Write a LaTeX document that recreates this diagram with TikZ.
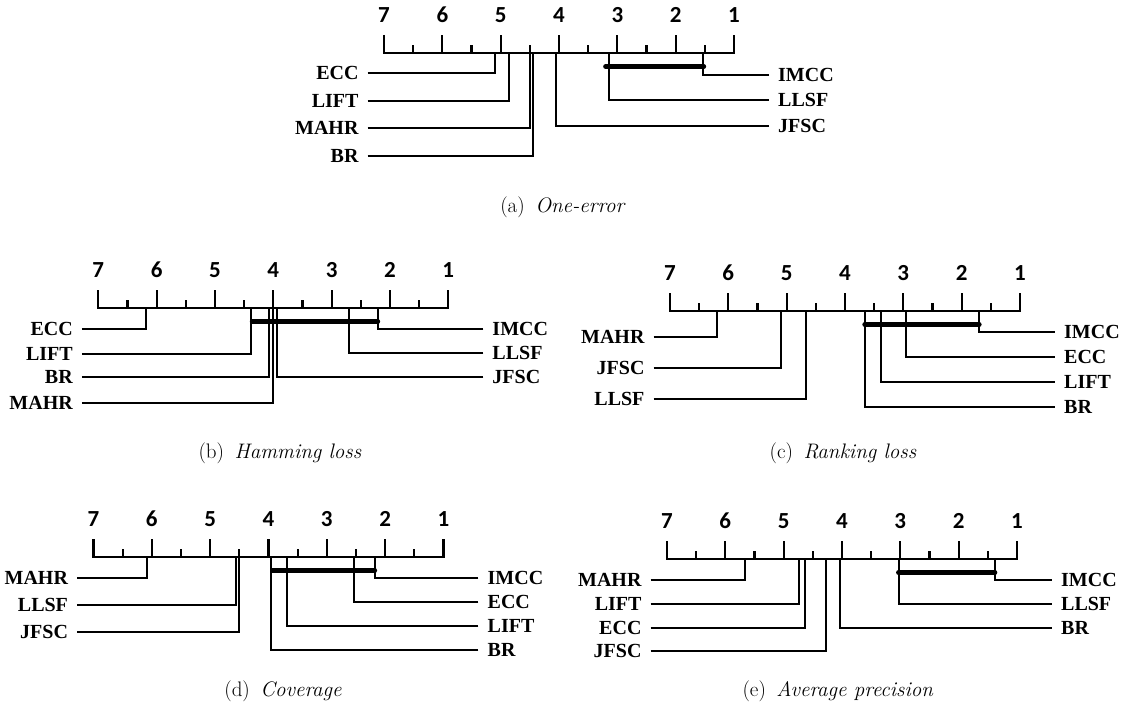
\documentclass[tikz,border=0pt]{standalone}
\usepackage{fontspec}
\newfontfamily\ranknumfont{Carlito}
\newfontfamily\methodfont{Liberation Serif}

% axis with ticks and rank numbers, #1 = prefix of the node names
\newcommand\cdaxis[1]{%
  \draw[axisline] (7,-18) -- (7,0) -- (1,0) -- (1,-18);
  \foreach \r in {2,...,6} \draw[axisline] (\r,0) -- (\r,-18);
  \foreach \r in {1.5,2.5,...,6.5} \draw[axisline] (\r,0) -- (\r,-8);
  \foreach \r in {1,...,7} \node[ranknum] (#1\r) at (\r,-38) {\r};}
% methods on the left / right: name/rank/row
\newcommand\cdleft[2]{%
  \foreach \m/\r/\y in {#2} {
    \node[method,anchor=east] (#1\m) at ([xshift=-9pt]7.28,\y) {\m};
    \draw[link] ([xshift=9pt]#1\m.east) -| (\r,0);}}
\newcommand\cdright[2]{%
  \foreach \m/\r/\y in {#2} {
    \node[method,anchor=west] (#1\m) at ([xshift=9pt]0.4,\y) {\m};
    \draw[link] ([xshift=-9pt]#1\m.west) -| (\r,0);}}

\begin{document}
\begin{tikzpicture}[
  axisline/.style={line width=2.2pt},
  link/.style={line width=2pt},
  cdbar/.style={line width=5pt,line cap=round},
  ranknum/.style={font=\ranknumfont\bfseries\fontsize{23}{23}\selectfont,inner sep=0pt},
  method/.style={font=\methodfont\bfseries\fontsize{20}{20}\selectfont,inner sep=0pt},
  capt/.style={font=\fontsize{21}{21}\selectfont,inner sep=0pt},
  panel/.style={x=-58.33pt,y=-1pt}]
\useasboundingbox (0,0) rectangle (1125pt,-709pt);

% (a)
\begin{scope}[panel,shift={(792.33pt,-53pt)}]
 \cdaxis{a}
 \cdleft{a}{ECC/5.09/20, LIFT/4.85/47.5, MAHR/4.50/75, BR/4.44/102.5}
 \cdright{a}{IMCC/1.54/22, LLSF/3.15/47, JFSC/4.05/73}
 \draw[cdbar] (3.2,13.5) -- (1.52,13.5);
\end{scope}
\node[capt] (capa) at (563pt,-207pt) {(a)\enspace\textit{One-error}};

% (b)
\begin{scope}[panel,shift={(506.6pt,-308pt)}]
 \cdaxis{b}
 \cdleft{b}{ECC/6.18/21, LIFT/4.38/46, BR/4.08/68.5, MAHR/4.00/94.5}
 \cdright{b}{IMCC/2.21/21, LLSF/2.71/45, JFSC/3.94/68.5}
 \draw[cdbar] (4.36,13.5) -- (2.21,13.5);
\end{scope}
\node[capt] (capb) at (280pt,-453pt) {(b)\enspace\textit{Hamming loss}};

% (c)
\begin{scope}[panel,shift={(1078.3pt,-311pt)}]
 \cdaxis{c}
 \cdleft{c}{MAHR/6.20/26, JFSC/5.09/57, LLSF/4.66/88}
 \cdright{c}{IMCC/1.70/21, ECC/2.96/46, LIFT/3.38/71, BR/3.66/96}
 \draw[cdbar] (3.66,13.5) -- (1.70,13.5);
\end{scope}
\node[capt] (capc) at (843pt,-453pt) {(c)\enspace\textit{Ranking loss}};

% (d)
\begin{scope}[panel,shift={(501.8pt,-557pt)}]
 \cdaxis{d}
 \cdleft{d}{MAHR/6.09/21, LLSF/4.56/48, JFSC/4.50/75}
 \cdright{d}{IMCC/2.18/21, ECC/2.54/45, LIFT/3.69/69, BR/3.95/93}
 \draw[cdbar] (3.93,13.5) -- (2.18,13.5);
\end{scope}
\node[capt] (capd) at (283pt,-691pt) {(d)\enspace\textit{Coverage}};

% (e)
\begin{scope}[panel,shift={(1075.3pt,-559pt)}]
 \cdaxis{e}
 \cdleft{e}{MAHR/5.67/21, LIFT/4.74/45, ECC/4.64/69, JFSC/4.28/92}
 \cdright{e}{IMCC/1.38/21, LLSF/3.02/45, BR/4.03/69}
 \draw[cdbar] (3.03,13.5) -- (1.38,13.5);
\end{scope}
\node[capt] (cape) at (838pt,-691pt) {(e)\enspace\textit{Average precision}};
\end{tikzpicture}
\end{document}
